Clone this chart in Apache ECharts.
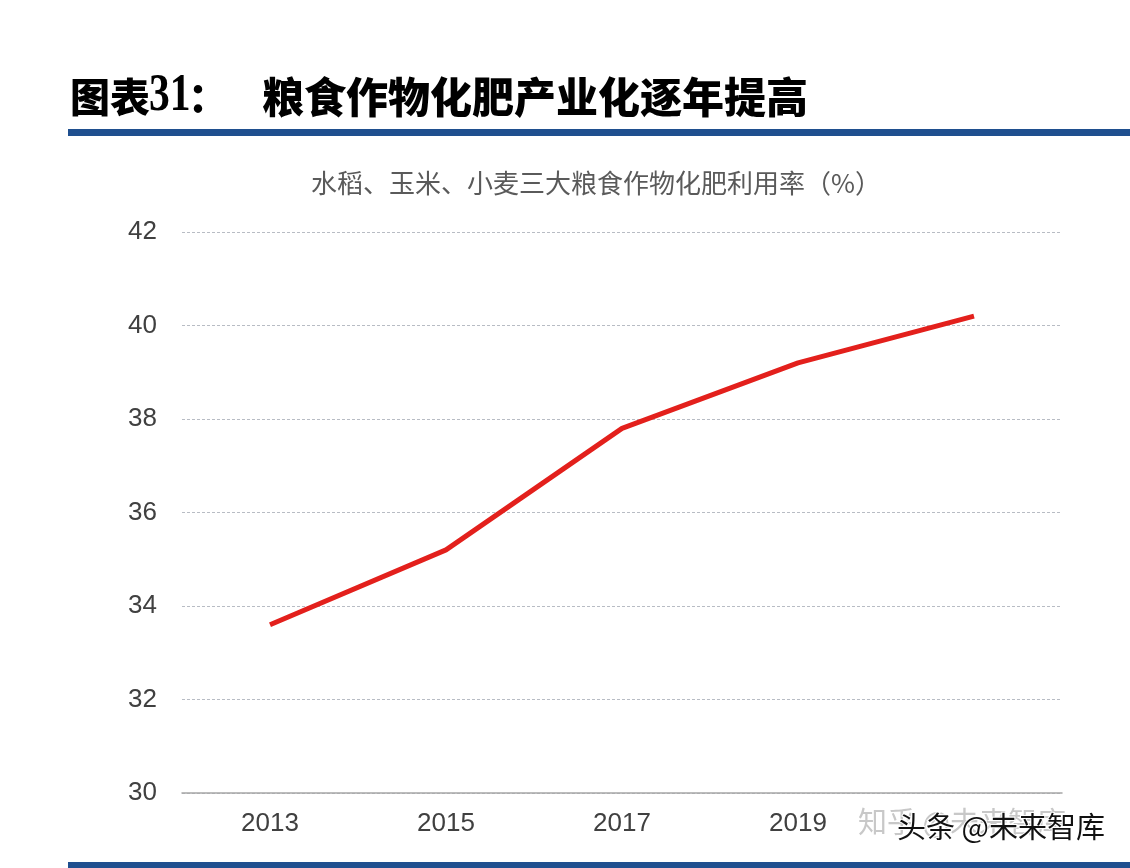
<!DOCTYPE html>
<html><head><meta charset="utf-8">
<script src="https://cdn.jsdelivr.net/npm/echarts@6/dist/echarts.min.js"></script>
<style>html,body{margin:0;padding:0;background:#fff}#c{width:1130px;height:868px}</style>
</head><body><div id="c"></div>
<script>
const categories = ['2013', '2015', '2017', '2019', '2021'];
const rates = [33.6, 35.2, 37.8, 39.2, 40.2];
const yTicks = { min: 30, max: 42, interval: 2 };
const titleHead = '图表';
const titleNum = '31';
const titleColon = '：';
const titleText = '粮食作物化肥产业化逐年提高';
const subtitleText = '水稻、玉米、小麦三大粮食作物化肥利用率（%）';

const chart = echarts.init(document.getElementById('c'));
chart.setOption({
  backgroundColor: '#ffffff',
  animation: false,
  grid: { left: 182, right: 68, top: 232, bottom: 75 },
  xAxis: {
    type: 'category', data: categories, boundaryGap: true,
    axisLine: { lineStyle: { color: '#a6a6a6', width: 1.5 } },
    axisTick: { show: false },
    axisLabel: { color: '#404040', fontSize: 26, margin: 18, fontFamily: 'Liberation Sans, Arial' }
  },
  yAxis: {
    type: 'value', min: yTicks.min, max: yTicks.max, interval: yTicks.interval,
    axisLine: { show: false }, axisTick: { show: false },
    axisLabel: { color: '#404040', fontSize: 26, margin: 25, fontFamily: 'Liberation Sans, Arial' },
    splitLine: { lineStyle: { color: '#b8bcc4', type: [3, 2], width: 1 } }
  },
  series: [{
    type: 'line', data: rates, showSymbol: false, symbol: 'none',
    lineStyle: { color: '#e3201c', width: 5 }, z: 3
  }],
  graphic: [
    { type: 'text', x: 70, y: 97, style: { text: titleHead, font: '900 40px "Noto Sans CJK SC", sans-serif', fill: '#000', textVerticalAlign: 'middle' } },
    { type: 'text', x: 149, y: 97, scaleX: 0.8, style: { text: titleNum, font: 'bold 52px "Liberation Serif", serif', fill: '#000', textVerticalAlign: 'middle' } },
    { type: 'text', x: 188, y: 97, style: { text: titleColon, font: '900 40px "Noto Sans CJK SC", sans-serif', fill: '#000', textVerticalAlign: 'middle' } },
    { type: 'text', x: 262, y: 97, style: { text: titleText, font: '900 42px "Noto Sans CJK SC", sans-serif', fill: '#000', textVerticalAlign: 'middle' } },
    { type: 'rect', shape: { x: 68, y: 129, width: 1062, height: 7 }, style: { fill: '#1f4f8f' } },
    { type: 'rect', shape: { x: 68, y: 862, width: 1062, height: 6 }, style: { fill: '#1f4f8f' } },
    { type: 'text', x: 596, y: 183, style: { text: subtitleText, font: '26px "Noto Sans CJK SC", sans-serif', fill: '#5a5a5a', textAlign: 'center', textVerticalAlign: 'middle' } },
    { type: 'rect', shape: { x: 940, y: 803, width: 175, height: 44 }, style: { fill: '#fff' }, z: 100 },
    { type: 'text', x: 858, y: 822, z: 101, style: { text: '知乎 @未来智库', font: '29px "Noto Sans CJK SC", sans-serif', fill: '#c8c8c8', textVerticalAlign: 'middle' } },
    { type: 'text', x: 897, y: 827, z: 102, style: { text: '头条 @未来智库', font: '29px "Noto Sans CJK SC", sans-serif', fill: '#111', stroke: '#fff', lineWidth: 2, textVerticalAlign: 'middle' } }
  ]
});
</script>
</body></html>
